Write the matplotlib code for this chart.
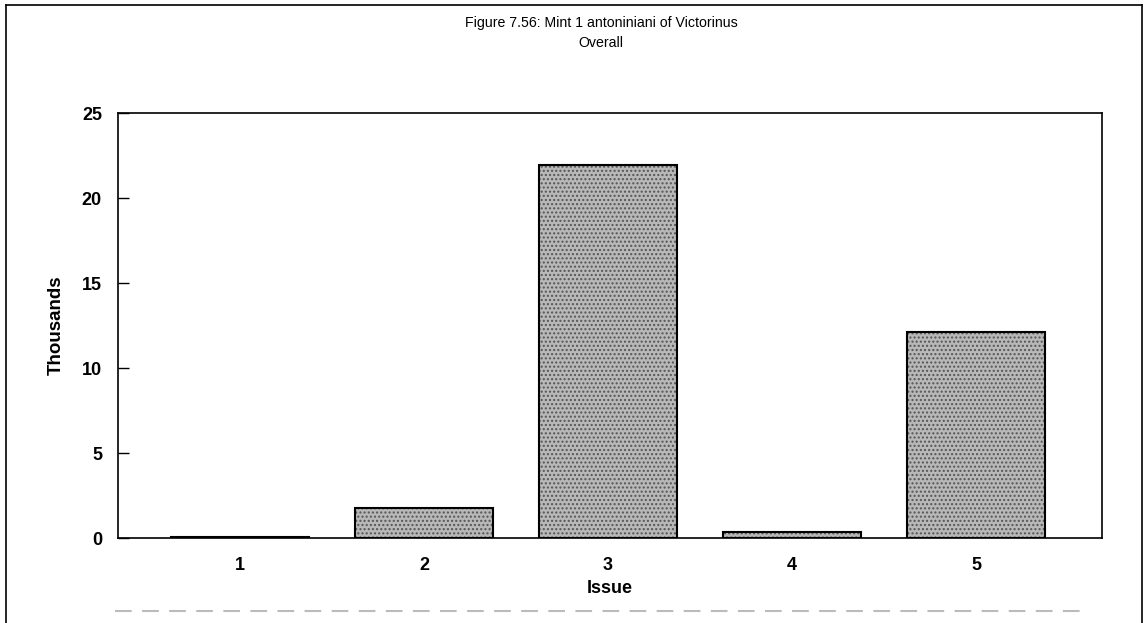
import matplotlib
matplotlib.use("Agg")
import matplotlib.pyplot as plt
from matplotlib.lines import Line2D

# ============ DATA ============
issues = [1, 2, 3, 4, 5]
issue_labels = ["1", "2", "3", "4", "5"]
thousands = [0.05, 1.76, 21.95, 0.35, 12.1]
y_ticks = [0, 5, 10, 15, 20, 25]

TITLE = "Figure 7.56: Mint 1 antoniniani of Victorinus\nOverall"

plt.rcParams['font.family'] = ['Liberation Sans', 'DejaVu Sans']

fig = plt.figure(figsize=(11.45, 6.23), dpi=100)
ax = fig.add_axes([0.103, 0.1364, 0.8594, 0.6822])

# stippled grey fill, then black outline on top
ax.bar(issues, thousands, width=0.75, color="#b8b8b8", hatch="....",
       edgecolor="#555555", linewidth=0, zorder=2)
ax.bar(issues, thousands, width=0.75, fill=False, edgecolor="black",
       linewidth=1.5, zorder=3)

ax.set_xlim(0.335, 5.685)
ax.set_ylim(0, 25)
ax.set_yticks(y_ticks)
ax.set_yticklabels([str(t) for t in y_ticks], fontsize=13, fontweight="bold")
ax.set_xticks(issues)
ax.set_xticklabels(issue_labels, fontsize=13, fontweight="bold")
ax.tick_params(axis="y", direction="in", length=8, width=1, pad=11.5)
ax.tick_params(axis="x", length=0, pad=14)

for s in ax.spines.values():
    s.set_linewidth(1.2)

ax.set_ylabel("Thousands", fontsize=13.5, fontweight="bold", labelpad=12)
ax.set_xlabel("Issue", fontsize=13, fontweight="bold", labelpad=4)

fig.text(0.525, 0.974, TITLE, ha="center", va="top", fontsize=10.2,
         family=['Liberation Sans Narrow', 'Liberation Sans'], linespacing=1.5)

# outer frame of the scanned page
fig.add_artist(Line2D([0.005, 0.005], [0.0, 0.992], color="black", lw=1.2))
fig.add_artist(Line2D([0.997, 0.997], [0.0, 0.992], color="black", lw=1.2))
fig.add_artist(Line2D([0.005, 0.997], [0.992, 0.992], color="black", lw=1.2))
fig.add_artist(Line2D([0.1, 0.95], [0.02, 0.02], color="#bbbbbb", lw=1.5,
                      linestyle=(0, (8, 5))))

fig.savefig("out.png", dpi=100)
